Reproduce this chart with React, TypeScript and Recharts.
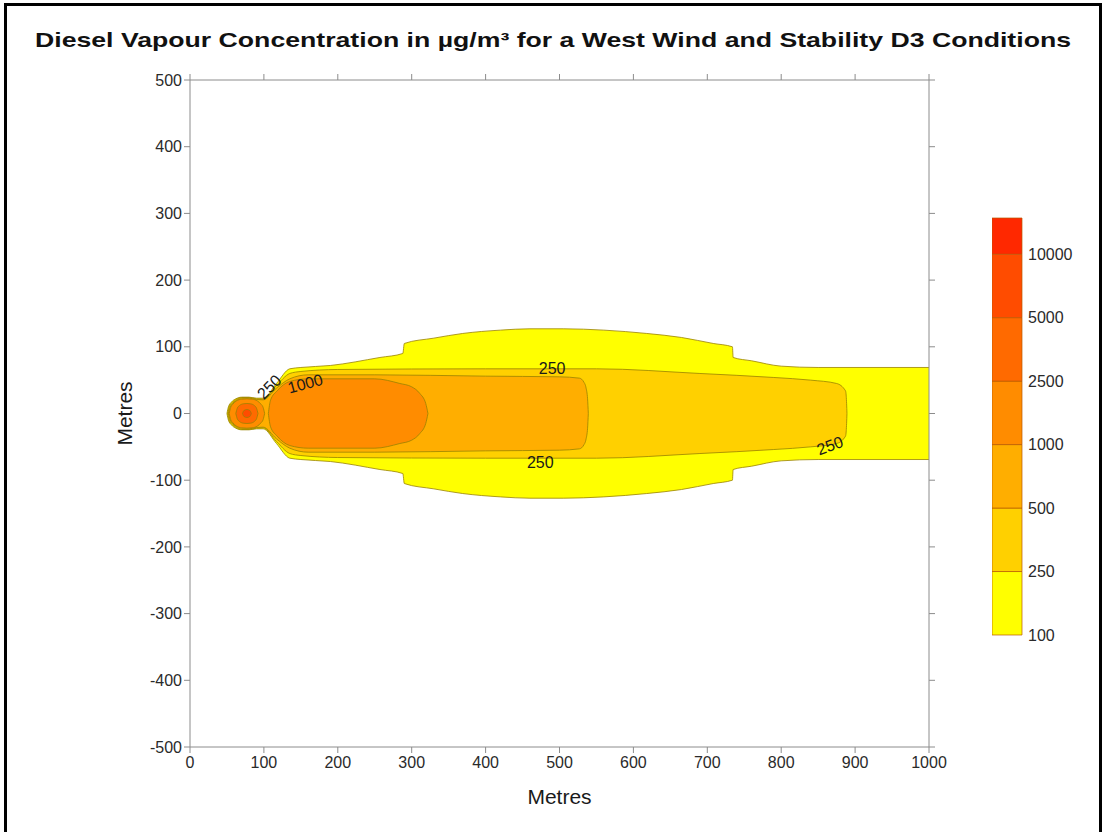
import {
  Area,
  Bar,
  BarChart,
  ComposedChart,
  ReferenceDot,
  XAxis,
  YAxis,
} from "recharts";

const FONT = "'Liberation Sans', Arial, Helvetica, sans-serif";

// Contour outlines: downwind distance (m) and half-width either side of the plume axis (m)
const c100X = [50, 52, 56, 62, 70, 80, 90, 99, 117, 135, 150, 190, 257, 288, 290, 330, 369, 420, 460, 505, 560, 618, 665, 708, 734, 735, 760, 800, 850, 1000];
const c100W = [0, 10, 17, 22, 24.5, 24.5, 23, 23, 45, 67, 69, 72, 84, 90, 105, 113, 120, 125, 127, 127, 125, 120, 114, 105, 100, 84, 79, 71, 69, 69];

const c250X = [51, 53, 57, 63, 70, 80, 90, 99, 117, 135, 150, 200, 400, 550, 690, 790, 840, 875, 887, 888, 889];
const c250W = [0, 10, 16.5, 21.5, 24, 24, 22, 21.5, 42, 60, 63, 66, 67, 67, 60, 54, 50, 45, 34, 26, 0];

const c500X = [52, 54, 58, 64, 70, 80, 90, 99, 117, 135, 160, 250, 400, 500, 527, 533, 536, 538, 539];
const c500W = [0, 9, 15.5, 20.5, 23, 23, 21, 20.5, 38, 52, 58, 58, 56, 55, 53, 47, 38, 22, 0];

const c1000SrcX = [53, 55, 58, 63, 70, 77, 84, 91, 96, 99, 101];
const c1000SrcW = [0, 9, 14, 19, 21.5, 22, 21.5, 19, 14, 9, 0];

const c1000X = [106, 109, 118, 135, 160, 250, 284, 300, 311, 319, 322];
const c1000W = [0, 20, 34, 48, 52, 52, 45, 40, 30, 15, 0];

const c2500X = [62, 64, 67, 72, 77, 82, 87, 90, 92];
const c2500W = [0, 8, 12, 14.5, 15, 14.5, 12, 8, 0];

const c5000X = [71, 73, 77, 81, 83];
const c5000W = [0, 4.5, 6, 4.5, 0];

// Colour scale
const scaleLabels = ["100", "250", "500", "1000", "2500", "5000", "10000"];
const scaleColors = ["#ffff00", "#ffd000", "#ffae00", "#ff8c00", "#ff6a00", "#ff4c00", "#ff2800"];
const scaleSpans = [1, 1, 1, 1, 1, 1, 0.57];

// Contour labels
const labelText = ["250", "1000", "250", "250", "250"];
const labelX = [107, 156, 490, 474, 866];
const labelY = [40, 45, 67, -73, -48];
const labelAngle = [-45, -15, 0, 0, -20];

const axisTicksX = [0, 100, 200, 300, 400, 500, 600, 700, 800, 900, 1000];
const axisTicksY = [-500, -400, -300, -200, -100, 0, 100, 200, 300, 400, 500];

const outlines = [
  { key: "c100", xs: c100X, ws: c100W, fill: scaleColors[0] },
  { key: "c250", xs: c250X, ws: c250W, fill: scaleColors[1] },
  { key: "c500", xs: c500X, ws: c500W, fill: scaleColors[2] },
  { key: "c1000src", xs: c1000SrcX, ws: c1000SrcW, fill: scaleColors[3] },
  { key: "c1000", xs: c1000X, ws: c1000W, fill: scaleColors[3] },
  { key: "c2500", xs: c2500X, ws: c2500W, fill: scaleColors[4] },
  { key: "c5000", xs: c5000X, ws: c5000W, fill: scaleColors[5] },
];

const allX = Array.from(new Set(outlines.flatMap((o) => o.xs))).sort((a, b) => a - b);
const plume = allX.map((x) => {
  const row: Record<string, any> = { x };
  outlines.forEach((o) => {
    const i = o.xs.indexOf(x);
    if (i >= 0) row[o.key] = [-o.ws[i], o.ws[i]];
  });
  return row;
});

const colorbarRow: Record<string, any> = { name: "scale" };
scaleSpans.forEach((v, i) => (colorbarRow[`b${i}`] = v));

const tickStyle = { fill: "#2a2a2a", fontSize: 16, fontFamily: FONT };
const axisColor = "#8c8c8c";

export default function App() {
  return (
    <div
      style={{
        position: "absolute",
        left: 0,
        top: 0,
        width: 1106,
        height: 832,
        background: "#fff",
        overflow: "hidden",
        fontFamily: FONT,
      }}
    >
      <div
        style={{
          position: "absolute",
          left: 4,
          top: 3,
          width: 1098,
          height: 845,
          border: "3px solid #000",
          boxSizing: "border-box",
        }}
      />
      <svg style={{ position: "absolute", left: 0, top: 0 }} width={1106} height={70}>
        <text
          x={553}
          y={47}
          textAnchor="middle"
          fontFamily={FONT}
          fontWeight="bold"
          fontSize={21}
          fill="#111"
          textLength={1036}
          lengthAdjust="spacingAndGlyphs"
        >
          Diesel Vapour Concentration in µg/m³ for a West Wind and Stability D3 Conditions
        </text>
      </svg>

      <div style={{ position: "absolute", left: 0, top: 0 }}>
        <ComposedChart
          width={1106}
          height={832}
          data={plume}
          margin={{ top: 79, right: 176, bottom: 55, left: 130 }}
        >
          <XAxis
            dataKey="x"
            type="number"
            domain={[0, 1000]}
            ticks={axisTicksX}
            allowDataOverflow
            height={30}
            stroke={axisColor}
            tick={tickStyle}
            tickSize={6}
            tickMargin={4}
            label={{
              value: "Metres",
              position: "bottom",
              offset: 12,
              fill: "#1a1a1a",
              fontSize: 21,
              fontFamily: FONT,
            }}
          />
          <XAxis
            xAxisId="top"
            dataKey="x"
            orientation="top"
            type="number"
            domain={[0, 1000]}
            ticks={axisTicksX}
            allowDataOverflow
            height={1}
            stroke={axisColor}
            tick={() => <g />}
            tickSize={6}
          />
          <YAxis
            type="number"
            domain={[-500, 500]}
            ticks={axisTicksY}
            allowDataOverflow
            width={60}
            stroke={axisColor}
            tick={tickStyle}
            tickSize={6}
            tickMargin={2}
            label={{
              value: "Metres",
              angle: -90,
              position: "insideLeft",
              offset: -5,
              fill: "#1a1a1a",
              fontSize: 21,
              fontFamily: FONT,
              style: { textAnchor: "middle" },
            }}
          />
          <YAxis
            yAxisId="right"
            orientation="right"
            type="number"
            domain={[-500, 500]}
            ticks={axisTicksY}
            allowDataOverflow
            width={1}
            stroke={axisColor}
            tick={() => <g />}
            tickSize={6}
          />
          {outlines.map((o) => (
            <Area
              key={o.key}
              dataKey={o.key}
              type="monotone"
              fill={o.fill}
              fillOpacity={1}
              stroke="#9a8200"
              strokeOpacity={0.8}
              strokeWidth={1}
              connectNulls
              dot={false}
              activeDot={false}
              isAnimationActive={false}
            />
          ))}
          {/* zero-height series so the top and right frame axes get drawn */}
          <Area
            dataKey="frame"
            xAxisId="top"
            yAxisId="right"
            stroke="none"
            fill="none"
            dot={false}
            activeDot={false}
            isAnimationActive={false}
          />
          {labelText.map((t, i) => (
            <ReferenceDot
              key={`lbl-${i}`}
              x={labelX[i]}
              y={labelY[i]}
              r={1}
              fill="none"
              stroke="none"
              label={{
                value: t,
                angle: labelAngle[i],
                position: "center",
                fill: "#1a1a1a",
                fontSize: 16,
                fontFamily: FONT,
              }}
            />
          ))}
        </ComposedChart>
      </div>

      <div style={{ position: "absolute", left: 992, top: 208 }}>
        <BarChart
          width={108}
          height={440}
          data={[colorbarRow]}
          margin={{ top: 10, right: 0, bottom: 13, left: 0 }}
          barCategoryGap={0}
        >
          <XAxis dataKey="name" hide />
          <YAxis
            orientation="right"
            type="number"
            domain={[0, 6.57]}
            ticks={[0, 1, 2, 3, 4, 5, 6]}
            tickFormatter={(v: number) => scaleLabels[v]}
            width={78}
            axisLine={false}
            tickLine={false}
            tickSize={0}
            tickMargin={6}
            tick={{ fill: "#2a2a2a", fontSize: 16, fontFamily: FONT, textAnchor: "start" }}
          />
          {scaleSpans.map((_, i) => (
            <Bar
              key={`b${i}`}
              dataKey={`b${i}`}
              stackId="scale"
              fill={scaleColors[i]}
              stroke="#b85a00"
              strokeOpacity={0.7}
              strokeWidth={1}
              isAnimationActive={false}
            />
          ))}
        </BarChart>
      </div>
    </div>
  );
}
